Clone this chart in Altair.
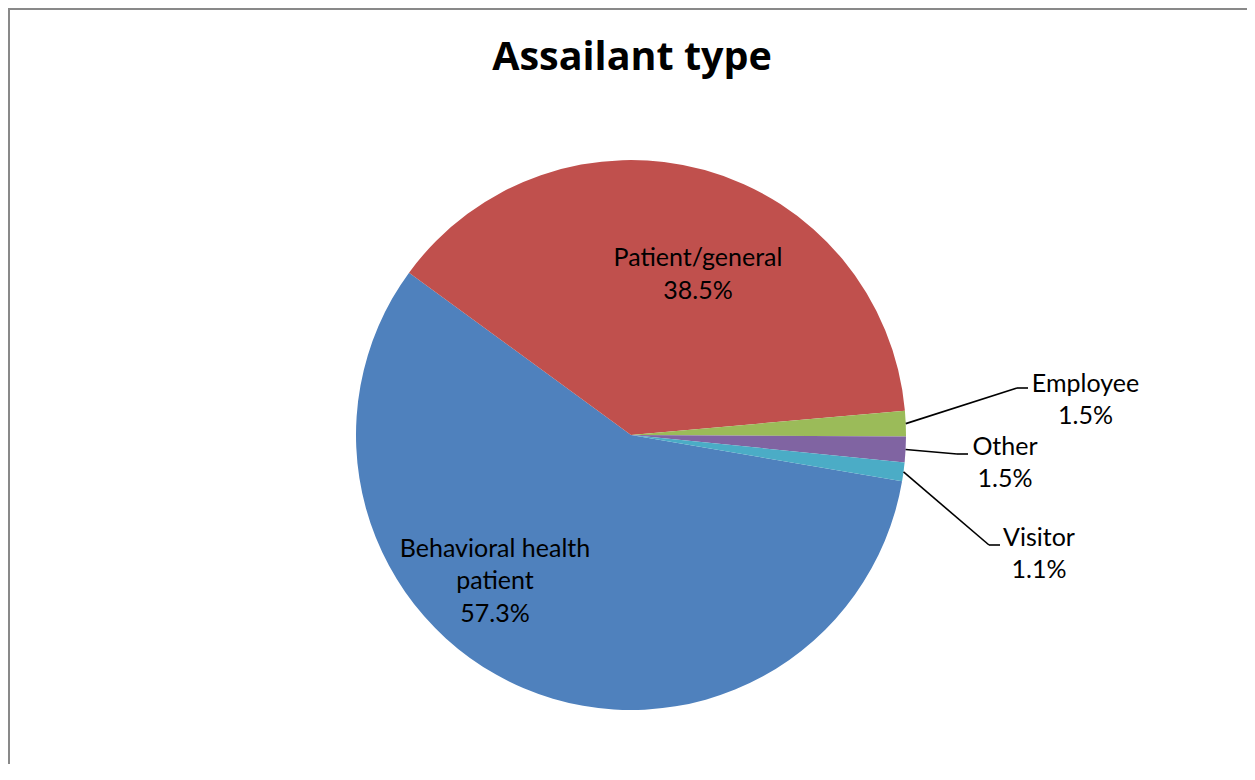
import altair as alt
import pandas as pd

# ---- data ----
categories = ["Behavioral health patient", "Patient/general", "Employee", "Other", "Visitor"]
values = [57.3, 38.5, 1.5, 1.5, 1.1]
colors = ["#4F81BD", "#C0504D", "#9BBB59", "#8064A2", "#4BACC6"]
display_names = ["Behavioral health\npatient", "Patient/general", "Employee", "Other", "Visitor"]

# ---- layout (pixels, chart coordinates) ----
W, H = 1239, 756
CX, CY, R = 623, 427, 275
START = 99.7 * 3.141592653589793 / 180.0
FONT = "Lato"

# label anchor offsets from the pie centre (first baseline), leader end points for outside labels
label_layout = [
    {"cat": "Behavioral health patient", "tx": -136, "ty": 121.7},
    {"cat": "Patient/general", "tx": 67, "ty": -169},
    {"cat": "Employee", "tx": 454.5, "ty": -43.3, "lx": 397, "ly": -47},
    {"cat": "Other", "tx": 374, "ty": 19.5, "lx": 337, "ly": 19},
    {"cat": "Visitor", "tx": 408, "ty": 110.5, "lx": 369, "ly": 110},
]
for row, name in zip(label_layout, display_names):
    row["display"] = name

data = pd.DataFrame({"cat": categories, "value": values, "order": list(range(len(categories)))})

base = (
    alt.Chart(data)
    .transform_joinaggregate(total="sum(value)")
    .transform_window(cum="sum(value)", sort=[alt.SortField("order")], frame=[None, 0])
    .transform_calculate(
        a0=f"{START} + 2*PI*(datum.cum - datum.value)/datum.total",
        a1=f"{START} + 2*PI*datum.cum/datum.total",
    )
    .transform_calculate(mid="(datum.a0 + datum.a1)/2")
    .transform_lookup(
        lookup="cat",
        from_=alt.LookupData(data=alt.Data(values=label_layout), key="cat",
                             fields=["tx", "ty", "lx", "ly", "display"]),
    )
)

arcs = base.mark_arc(radius=R).encode(
    theta=alt.Theta("a0:Q", scale=None, stack=None),
    theta2=alt.Theta2("a1:Q"),
    color=alt.Color("cat:N", scale=alt.Scale(domain=categories, range=colors), legend=None),
    x=alt.value(CX),
    y=alt.value(CY),
)

leader = base.transform_filter("isValid(datum.lx)").transform_calculate(
    x0=f"{CX} + {R}*sin(datum.mid)",
    y0=f"{CY} - {R}*cos(datum.mid)",
    x1=f"{CX} + datum.lx - 11",
    y1=f"{CY} + datum.ly",
    x2=f"{CX} + datum.lx",
)

leader_a = leader.mark_rule(color="black", strokeWidth=1.6).encode(
    x=alt.X("x0:Q", scale=None), y=alt.Y("y0:Q", scale=None),
    x2="x1:Q", y2="y1:Q",
)
leader_b = leader.mark_rule(color="black", strokeWidth=1.6).encode(
    x=alt.X("x1:Q", scale=None), y=alt.Y("y1:Q", scale=None),
    x2="x2:Q", y2="y1:Q",
)

labels = base.transform_calculate(
    lab="datum.display + '\\n' + format(datum.value, '.1f') + '%'",
    px=f"{CX} + datum.tx",
    py=f"{CY} + datum.ty",
).mark_text(
    font=FONT, fontSize=25, lineBreak="\n", lineHeight=32.5,
    align="center", baseline="alphabetic", color="black",
).encode(
    x=alt.X("px:Q", scale=None), y=alt.Y("py:Q", scale=None), text="lab:N"
)

single = alt.Data(values=[{}])
title = alt.Chart(single).mark_text(
    text="Assailant type", font="Open Sans", fontSize=39.5, fontWeight="bold",
    align="center", baseline="alphabetic", color="black",
).encode(x=alt.value(624), y=alt.value(62))

border_left = alt.Chart(single).mark_rule(color="#898989", strokeWidth=2).encode(
    x=alt.value(1), y=alt.value(0), y2=alt.value(H)
)
border_top = alt.Chart(single).mark_rule(color="#898989", strokeWidth=2).encode(
    x=alt.value(0), x2=alt.value(W), y=alt.value(1)
)

chart = (
    alt.layer(arcs, leader_a, leader_b, labels, title, border_left, border_top)
    .properties(width=W, height=H, padding=0, autosize=alt.AutoSizeParams(type="none"),
                background="white")
    .configure_view(stroke=None)
)

chart.save("out.html", embed_options={"renderer": "svg", "actions": False})
